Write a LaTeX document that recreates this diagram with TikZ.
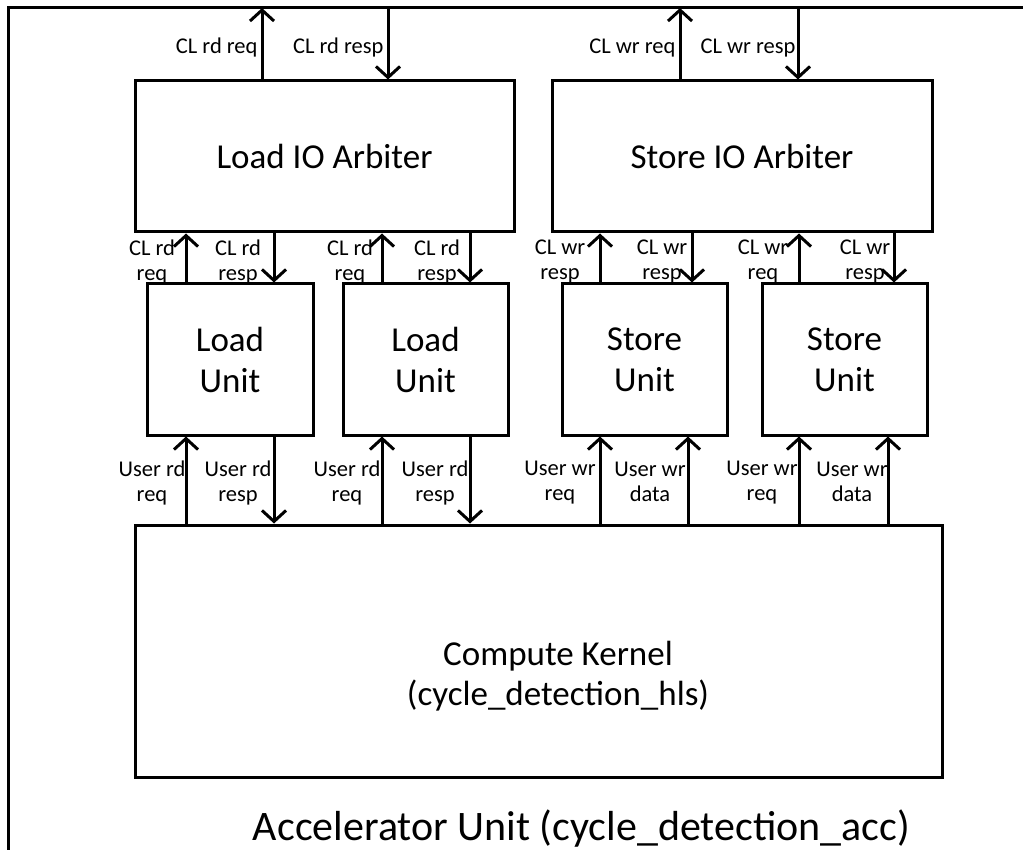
\documentclass[tikz,border=0pt]{standalone}
\usepackage{fontspec}
\setmainfont{Carlito}
\usetikzlibrary{arrows.meta}
\begin{document}
\begin{tikzpicture}[x=1pt,y=-1pt,
  box/.style={draw, line width=3pt, inner sep=0pt, align=center, font=\fontsize{35}{41}\selectfont},
  boxtext/.style={align=center, inner sep=0pt, font=\fontsize{35}{40}\selectfont},
  arr/.style={line width=3pt, -{Straight Barb[length=11pt,width=24pt,line width=3pt]}},
  lbl/.style={align=center, inner sep=0pt, font=\fontsize{22.5}{25}\selectfont},
  titletext/.style={inner sep=0pt, font=\fontsize{42}{48}\selectfont},
]
\useasboundingbox (0,0) rectangle (1023,850);
\coordinate (ftl) at (8,8);
\coordinate (fbl) at (8,850);
\coordinate (ftr) at (1023,8);
\draw[line width=3pt] (fbl) -- (ftl) -- (ftr);

% boxes
\node[box, minimum width=379pt, minimum height=151pt] (la) at (324.5,156.5) {Load IO Arbiter};
\node[box, minimum width=380pt, minimum height=151pt] (sa) at (742,156.5) {Store IO Arbiter};
\node[box, minimum width=166pt, minimum height=151pt] (lu1) at (230,359.5) {Load\\Unit};
\node[box, minimum width=165pt, minimum height=151pt] (lu2) at (425.5,359.5) {Load\\Unit};
\node[box, minimum width=165pt, minimum height=151pt] (su1) at (644.5,359.5) {Store\\Unit};
\node[box, minimum width=165pt, minimum height=151pt] (su2) at (844.5,359.5) {Store\\Unit};
\node[box, minimum width=807pt, minimum height=252pt] (ck) at (538.5,651) {};
\node[boxtext] (ckt) at (558,676) {Compute Kernel\\(cycle\_detection\_hls)};
\node[titletext, anchor=base] (title) at (581.5,840) {Accelerator Unit (cycle\_detection\_acc)};

% top connectors
\draw[arr] (262,0 |- la.north) -- node[lbl, anchor=east, xshift=-3pt, yshift=-4pt] (t1) {CL rd req} (262,0 |- ftl);
\draw[arr] (388,0 |- ftl) -- node[lbl, anchor=east, xshift=-3pt, yshift=-4pt] (t2) {CL rd resp} (388,0 |- la.north);
\draw[arr] (680,0 |- sa.north) -- node[lbl, anchor=east, xshift=-3pt, yshift=-4pt] (t3) {CL wr req} (680,0 |- ftl);
\draw[arr] (798,0 |- ftl) -- node[lbl, anchor=east, xshift=-1pt, yshift=-4pt] (t4) {CL wr resp} (798,0 |- sa.north);

% middle connectors
\draw[arr] (186,0 |- lu1.north) -- node[lbl, xshift=-34pt, yshift=-4pt] (m1) {CL rd\\req} (186,0 |- la.south);
\draw[arr] (274,0 |- la.south) -- node[lbl, xshift=-36pt, yshift=-4pt] (m2) {CL rd\\resp} (274,0 |- lu1.north);
\draw[arr] (382,0 |- lu2.north) -- node[lbl, xshift=-32pt, yshift=-4pt] (m3) {CL rd\\req} (382,0 |- la.south);
\draw[arr] (470,0 |- la.south) -- node[lbl, xshift=-33pt, yshift=-4pt] (m4) {CL rd\\resp} (470,0 |- lu2.north);
\draw[arr] (600,0 |- su1.north) -- node[lbl, xshift=-40pt, yshift=-4pt] (m5) {CL wr\\resp} (600,0 |- sa.south);
\draw[arr] (692,0 |- sa.south) -- node[lbl, xshift=-30pt, yshift=-4pt] (m6) {CL wr\\resp} (692,0 |- su1.north);
\draw[arr] (799,0 |- su2.north) -- node[lbl, xshift=-36pt, yshift=-4pt] (m7) {CL wr\\req} (799,0 |- sa.south);
\draw[arr] (894,0 |- sa.south) -- node[lbl, xshift=-29pt, yshift=-4pt] (m8) {CL wr\\resp} (894,0 |- su2.north);

% bottom connectors
\draw[arr] (186,0 |- ck.north) -- node[lbl, xshift=-34pt, yshift=-3pt] (b1) {User rd\\req} (186,0 |- lu1.south);
\draw[arr] (274,0 |- lu1.south) -- node[lbl, xshift=-36pt, yshift=-3pt] (b2) {User rd\\resp} (274,0 |- ck.north);
\draw[arr] (382,0 |- ck.north) -- node[lbl, xshift=-35pt, yshift=-3pt] (b3) {User rd\\req} (382,0 |- lu2.south);
\draw[arr] (470,0 |- lu2.south) -- node[lbl, xshift=-35pt, yshift=-3pt] (b4) {User rd\\resp} (470,0 |- ck.north);
\draw[arr] (600,0 |- ck.north) -- node[lbl, xshift=-40pt, yshift=-3pt] (b5) {User wr\\req} (600,0 |- su1.south);
\draw[arr] (688,0 |- ck.north) -- node[lbl, xshift=-38pt, yshift=-2pt] (b6) {User wr\\data} (688,0 |- su1.south);
\draw[arr] (799,0 |- ck.north) -- node[lbl, xshift=-37pt, yshift=-3pt] (b7) {User wr\\req} (799,0 |- su2.south);
\draw[arr] (888,0 |- ck.north) -- node[lbl, xshift=-36pt, yshift=-2pt] (b8) {User wr\\data} (888,0 |- su2.south);
\end{tikzpicture}
\end{document}
